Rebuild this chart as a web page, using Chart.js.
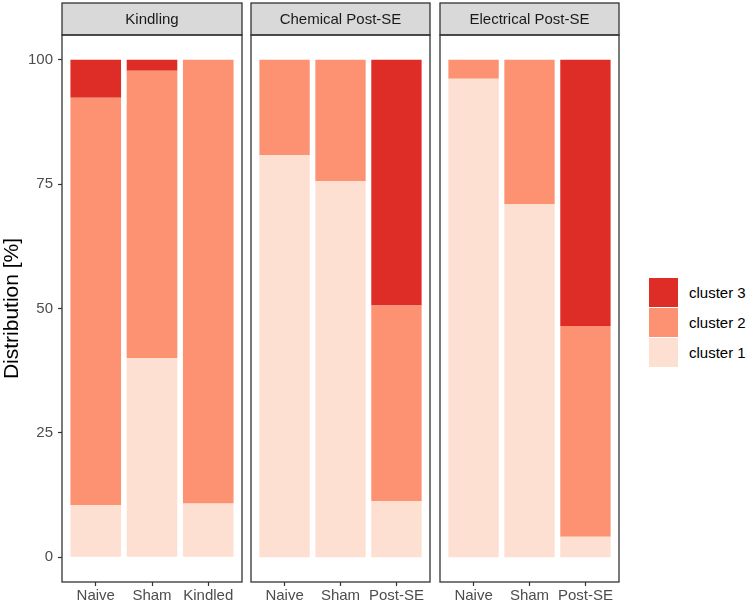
<!DOCTYPE html>
<html>
<head>
<meta charset="utf-8">
<script src="https://cdn.jsdelivr.net/npm/chart.js@4"></script>
<style>
  body { margin: 0; background: #fff; }
  #wrap { position: relative; width: 750px; height: 604px; font-family: "Liberation Sans", Arial, sans-serif; }
  canvas { position: absolute; top: 0; }
  .key { position: absolute; left: 649px; width: 29px; height: 29px; }
  .lab { position: absolute; left: 689px; font-size: 15px; color: #000; line-height: 29px; }
</style>
</head>
<body>
<div id="wrap">
  <canvas id="p1" width="250" height="604" style="left:0px"></canvas>
  <canvas id="p2" width="189" height="604" style="left:246px"></canvas>
  <canvas id="p3" width="189" height="604" style="left:435px"></canvas>
  <div class="key" style="top:278px;background:#DE2D26"></div><div class="lab" style="top:278px">cluster 3</div>
  <div class="key" style="top:308px;background:#FC9272"></div><div class="lab" style="top:308px">cluster 2</div>
  <div class="key" style="top:338px;background:#FEE0D2"></div><div class="lab" style="top:338px">cluster 1</div>
</div>
<script>
// panel titles and categories
const facets = ['Kindling', 'Chemical Post-SE', 'Electrical Post-SE'];
const kindlingCats = ['Naive', 'Sham', 'Kindled'];
const chemicalCats = ['Naive', 'Sham', 'Post-SE'];
const electricalCats = ['Naive', 'Sham', 'Post-SE'];

// distribution [%] per cluster
const kindlingC1 = [10.5, 40.0, 10.8];
const kindlingC2 = [81.9, 57.8, 89.2];
const kindlingC3 = [7.6, 2.2, 0];
const chemicalC1 = [80.8, 75.6, 11.3];
const chemicalC2 = [19.2, 24.4, 39.3];
const chemicalC3 = [0, 0, 49.4];
const electricalC1 = [96.2, 71.0, 4.1];
const electricalC2 = [3.8, 29.0, 42.4];
const electricalC3 = [0, 0, 53.5];

const yTicks = [0, 25, 50, 75, 100];
const clusterColors = ['#FEE0D2', '#FC9272', '#DE2D26'];

const FONT = '"Liberation Sans", Arial, sans-serif';

const framePlugin = {
    id: 'frame',
    afterDraw(chart, args, opts) {
        const { ctx, chartArea: a } = chart;
        ctx.save();
        ctx.lineWidth = 1.3;
        ctx.strokeStyle = '#333333';
        ctx.fillStyle = '#D9D9D9';
        ctx.fillRect(a.left, 3, a.right - a.left, a.top - 3);
        ctx.strokeRect(a.left, 3, a.right - a.left, a.top - 3);
        ctx.strokeRect(a.left, a.top, a.right - a.left, a.bottom - a.top);
        ctx.fillStyle = '#1A1A1A';
        ctx.font = '15px ' + FONT;
        ctx.textAlign = 'center';
        ctx.textBaseline = 'middle';
        ctx.fillText(opts.title, (a.left + a.right) / 2, (3 + a.top) / 2 + 1);
        ctx.restore();
    }
};

function makePanel(id, title, cats, c1, c2, c3, showY) {
    const series = [c1, c2, c3];
    new Chart(document.getElementById(id), {
        type: 'bar',
        data: {
            datasets: series.map((vals, k) => ({
                label: 'cluster ' + (k + 1),
                data: vals.map((v, i) => ({ x: i + 1, y: v })),
                backgroundColor: clusterColors[k],
                borderWidth: 0,
                categoryPercentage: 0.9,
                barPercentage: 1,
            })),
        },
        options: {
            responsive: false,
            animation: false,
            devicePixelRatio: 1,
            layout: { padding: showY ? { top: 35, right: 8, left: 0, bottom: 0 } : { top: 35, right: 5, left: 5, bottom: 0 } },
            plugins: { legend: { display: false }, tooltip: { enabled: false }, frame: { title } },
            scales: {
                x: {
                    type: 'linear', stacked: true, offset: false, min: 0.4, max: 3.6,
                    afterBuildTicks: s => { s.ticks = [1, 2, 3].map(v => ({ value: v })); },
                    afterFit: s => { s.height = 22; },
                    grid: { offset: false, drawOnChartArea: false, tickLength: 4, tickColor: '#333333', tickWidth: 1.2 },
                    border: { display: false },
                    ticks: { padding: 1, color: '#4D4D4D', font: { size: 15, family: FONT }, maxRotation: 0, autoSkip: false,
                             callback: v => cats[v - 1] },
                },
                y: {
                    display: showY, stacked: true, min: -5, max: 105,
                    afterBuildTicks: s => { s.ticks = yTicks.map(v => ({ value: v })); },
                    afterFit: s => { if (showY) s.width = 62; },
                    grid: { drawOnChartArea: false, tickLength: 4, tickColor: '#333333', tickWidth: 1.2 },
                    border: { display: false },
                    ticks: { padding: 5, color: '#4D4D4D', font: { size: 15, family: FONT } },
                    title: { display: true, text: 'Distribution [%]', color: '#000', padding: 0, font: { size: 21, family: FONT } },
                },
            },
        },
        plugins: [framePlugin],
    });
}

makePanel('p1', facets[0], kindlingCats, kindlingC1, kindlingC2, kindlingC3, true);
makePanel('p2', facets[1], chemicalCats, chemicalC1, chemicalC2, chemicalC3, false);
makePanel('p3', facets[2], electricalCats, electricalC1, electricalC2, electricalC3, false);
</script>
</body>
</html>
